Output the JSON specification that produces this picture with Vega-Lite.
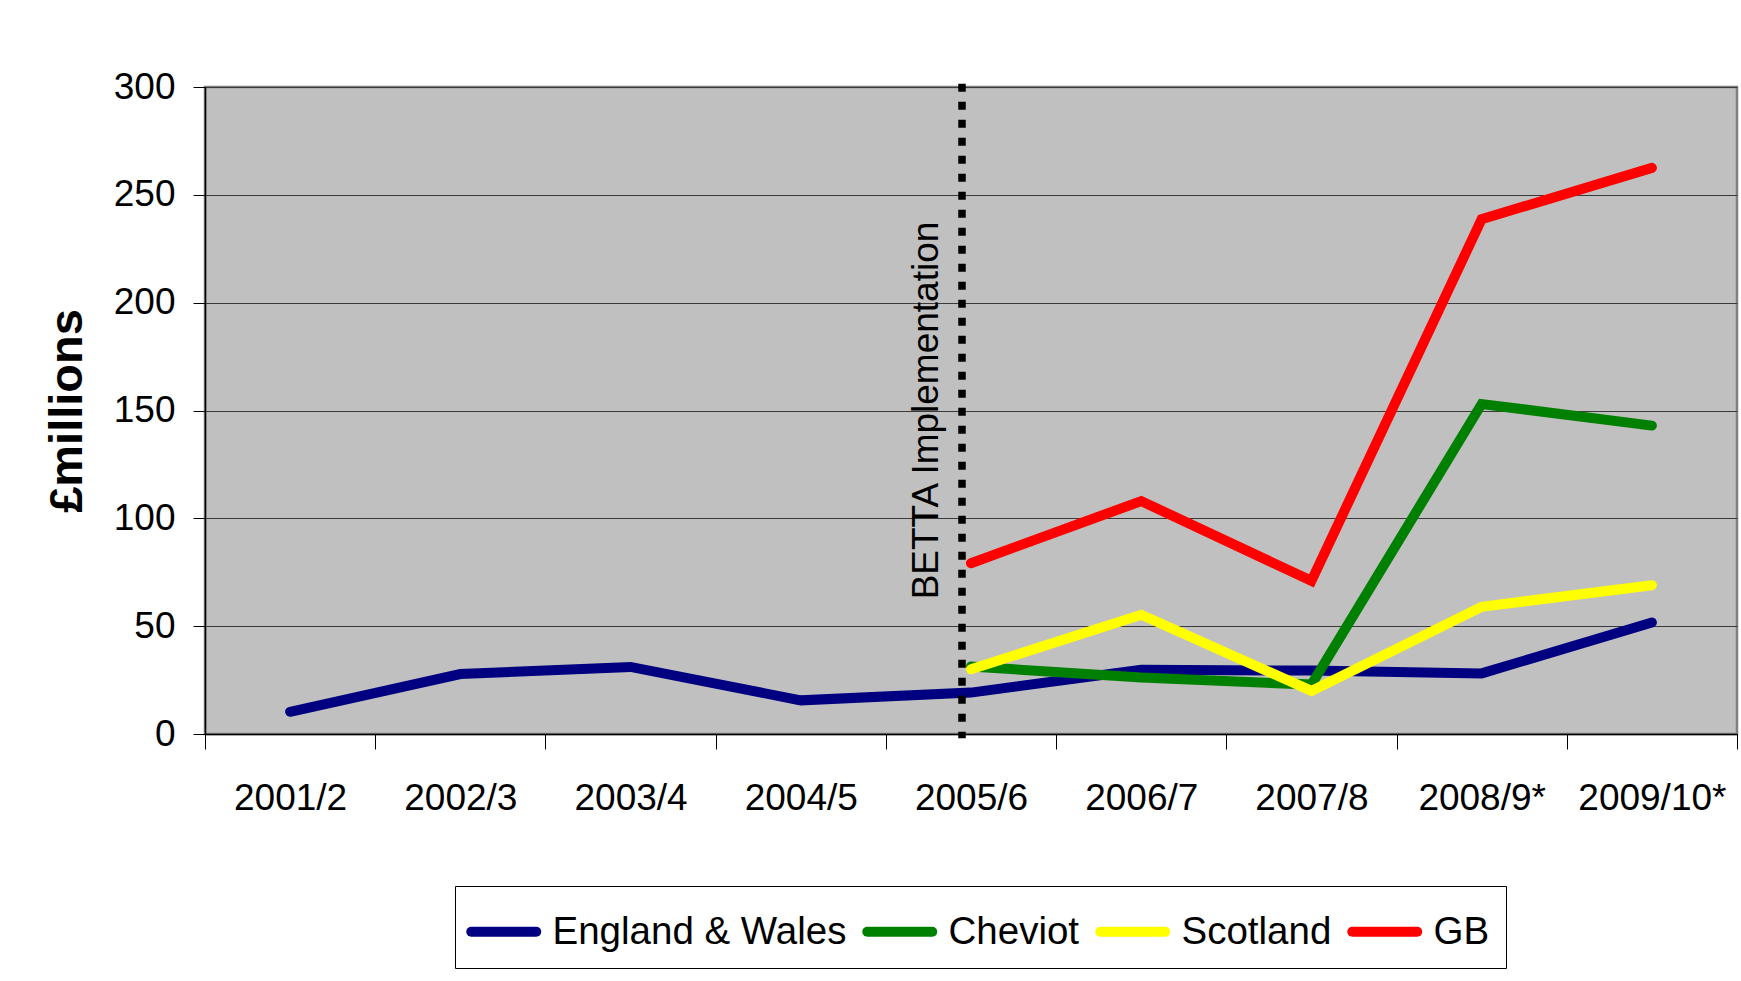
{
  "$schema": "https://vega.github.io/schema/vega-lite/v6.json",
  "autosize": {"type": "none"},
  "width": 1532,
  "height": 647,
  "padding": {"left": 205, "top": 87, "right": 4, "bottom": 247},
  "background": "white",
  "config": {
    "view": {"fill": "#C0C0C0", "stroke": "#808080", "strokeWidth": 2.5},
    "axis": {"labelColor": "black", "tickColor": "#000000", "domainColor": "#000000", "domainWidth": 1.5, "tickWidth": 1}
  },
  "datasets": {
    "costs": [
      {"period": "2001/2", "series": "England & Wales", "value": 10.3},
      {"period": "2002/3", "series": "England & Wales", "value": 27.8},
      {"period": "2003/4", "series": "England & Wales", "value": 31.1},
      {"period": "2004/5", "series": "England & Wales", "value": 15.6},
      {"period": "2005/6", "series": "England & Wales", "value": 19.2},
      {"period": "2006/7", "series": "England & Wales", "value": 29.8},
      {"period": "2007/8", "series": "England & Wales", "value": 29.4},
      {"period": "2008/9*", "series": "England & Wales", "value": 28.1},
      {"period": "2009/10*", "series": "England & Wales", "value": 51.7},
      {"period": "2005/6", "series": "Cheviot", "value": 31.3},
      {"period": "2006/7", "series": "Cheviot", "value": 26.2},
      {"period": "2007/8", "series": "Cheviot", "value": 22.9},
      {"period": "2008/9*", "series": "Cheviot", "value": 153},
      {"period": "2009/10*", "series": "Cheviot", "value": 143},
      {"period": "2005/6", "series": "Scotland", "value": 30},
      {"period": "2006/7", "series": "Scotland", "value": 55.3},
      {"period": "2007/8", "series": "Scotland", "value": 20},
      {"period": "2008/9*", "series": "Scotland", "value": 59},
      {"period": "2009/10*", "series": "Scotland", "value": 69},
      {"period": "2005/6", "series": "GB", "value": 79.2},
      {"period": "2006/7", "series": "GB", "value": 108},
      {"period": "2007/8", "series": "GB", "value": 71},
      {"period": "2008/9*", "series": "GB", "value": 238.7},
      {"period": "2009/10*", "series": "GB", "value": 262.5}
    ],
    "betta": [
      {"period": "2005/6", "label": "BETTA Implementation"}
    ]
  },
  "layer": [
    {
      "data": {"name": "costs"},
      "mark": {"type": "line", "strokeWidth": 10, "strokeCap": "round", "strokeJoin": "miter"},
      "encoding": {
        "x": {
          "field": "period", "type": "nominal", "bandPosition": 0.5,
          "scale": {"type": "band", "paddingInner": 0, "paddingOuter": 0,
            "domain": ["2001/2", "2002/3", "2003/4", "2004/5", "2005/6", "2006/7", "2007/8", "2008/9*", "2009/10*"]},
          "axis": {
            "title": null, "labelAngle": 0, "tickBand": "extent", "tickSize": 15,
            "labelPadding": 31, "labelFont": "Liberation Sans", "labelFontSize": 37,
            "labelBaseline": "top", "grid": false
          }
        },
        "y": {
          "field": "value", "type": "quantitative",
          "scale": {"domain": [0, 300], "nice": false, "zero": true},
          "axis": {
            "title": "£millions", "titleFont": "Liberation Sans", "titleFontWeight": "bold",
            "titleFontSize": 47, "titleColor": "black", "titlePadding": 22,
            "values": [0, 50, 100, 150, 200, 250, 300],
            "tickSize": 12, "labelPadding": 18, "labelFont": "Liberation Sans", "labelFontSize": 37,
            "grid": true, "gridColor": "#3a3a3a", "gridWidth": 1.2
          }
        },
        "color": {
          "field": "series", "type": "nominal",
          "scale": {"domain": ["England & Wales", "Cheviot", "Scotland", "GB"],
                    "range": ["#000080", "#008000", "#FFFF00", "#FF0000"]},
          "legend": {
            "title": null, "orient": "none", "direction": "horizontal",
            "legendX": 250, "legendY": 799,
            "symbolType": "M-1.206,0H1.474", "symbolSize": 2352, "symbolStrokeWidth": 10,
            "labelFont": "Liberation Sans", "labelFontSize": 38.5, "labelColor": "black",
            "labelOffset": 22.5, "columnPadding": 0, "padding": 16,
            "strokeColor": "#000000", "fillColor": "white", "labelLimit": 400,
            "encode": {"symbols": {"update": {"strokeCap": {"value": "round"}}}}
          }
        },
        "order": {"field": "period", "type": "ordinal"}
      }
    },
    {
      "data": {"name": "betta"},
      "mark": {"type": "rule", "color": "black", "strokeWidth": 7.5, "strokeDash": [8, 10], "xOffset": -9, "clip": false},
      "encoding": {
        "x": {"field": "period", "type": "nominal", "bandPosition": 0.5},
        "y": {"datum": 301.5},
        "y2": {"datum": -2}
      }
    },
    {
      "data": {"name": "betta"},
      "mark": {"type": "text", "angle": 270, "align": "center", "baseline": "alphabetic",
               "font": "Liberation Sans", "fontSize": 37, "color": "black", "xOffset": -33},
      "encoding": {
        "x": {"field": "period", "type": "nominal", "bandPosition": 0.5},
        "y": {"datum": 150},
        "text": {"field": "label"}
      }
    }
  ]
}
